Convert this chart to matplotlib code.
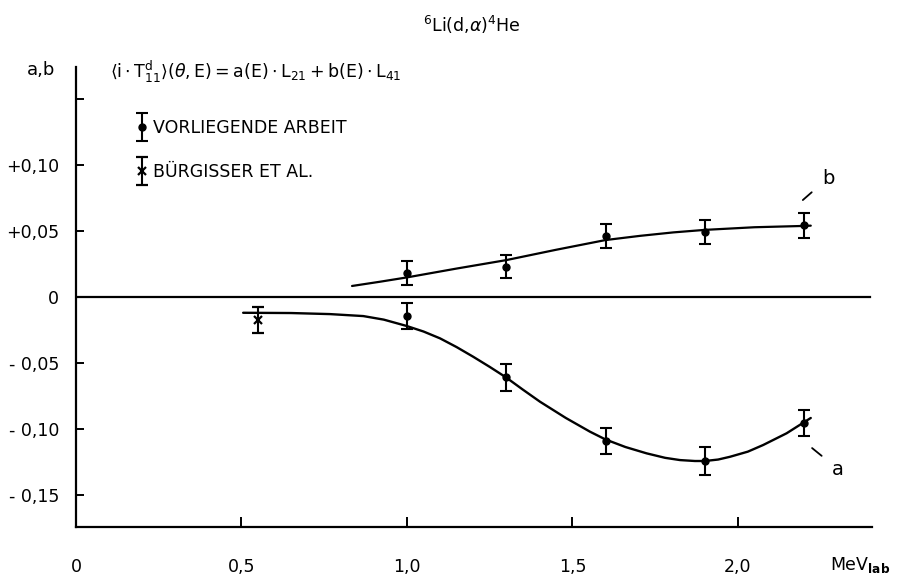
import matplotlib
matplotlib.use("Agg")
import matplotlib.pyplot as plt
from matplotlib.legend_handler import HandlerErrorbar

plt.rcParams['font.family'] = ['DejaVu Sans']
plt.rcParams['mathtext.fontset'] = 'dejavusans'

# ---- data ----
E_pts = [1.0, 1.3, 1.6, 1.9, 2.2]
a_pts = [-0.0148, -0.0612, -0.1095, -0.1246, -0.0956]
a_err = [0.0100, 0.0100, 0.0101, 0.0105, 0.0100]
b_pts = [0.0176, 0.0226, 0.0460, 0.0490, 0.0540]
b_err = [0.0092, 0.0087, 0.0089, 0.0093, 0.0093]

E_burg = [0.55]
a_burg = [-0.0178]
a_burg_err = [0.0102]

a_curve_E = [0.505, 0.65, 0.767, 0.868, 0.93, 0.999, 1.05, 1.10, 1.15, 1.20, 1.25, 1.299,
             1.35, 1.402, 1.48, 1.553, 1.60, 1.66, 1.724, 1.78, 1.825, 1.87, 1.90, 1.94,
             1.976, 2.03, 2.076, 2.147, 2.22]
a_curve_v = [-0.0123, -0.0125, -0.0133, -0.0148, -0.0175, -0.0223, -0.0265, -0.0317, -0.0383,
             -0.0456, -0.0533, -0.0612, -0.0705, -0.0797, -0.0920, -0.1024, -0.1083, -0.1140,
             -0.1188, -0.1222, -0.1239, -0.1246, -0.1246, -0.1235, -0.1214, -0.1175, -0.1125,
             -0.1036, -0.0920]

b_curve_E = [0.834, 0.918, 1.0, 1.15, 1.3, 1.45, 1.6, 1.705, 1.805, 1.9, 2.05, 2.2, 2.22]
b_curve_v = [0.0080, 0.0112, 0.0145, 0.0212, 0.0276, 0.0354, 0.0428, 0.0460, 0.0486, 0.0505,
             0.0525, 0.0535, 0.0537]

x_ticks = [0, 0.5, 1.0, 1.5, 2.0]
x_ticklabels = ['0', '0,5', '1,0', '1,5', '2,0']
y_ticks = [-0.15, -0.10, -0.05, 0.0, 0.05, 0.10, 0.15]
y_ticklabels = ['- 0,15', '- 0,10', '- 0,05', '0', '+0,05', '+0,10', '']

# ---- figure ----
fig = plt.figure(figsize=(9.02, 5.78), dpi=100)
ax = fig.add_axes([76/902, 1-527/578, (872-76)/902, (527-67)/578])
ax.set_xlim(0, 2.405)
ax.set_ylim(-0.1746, 0.1739)

for s in ['top', 'right']:
    ax.spines[s].set_visible(False)
for s in ['left', 'bottom']:
    ax.spines[s].set_linewidth(1.6)

ax.set_xticks(x_ticks)
ax.set_xticklabels(x_ticklabels)
ax.set_yticks(y_ticks)
ax.set_yticklabels(y_ticklabels)
ax.tick_params(axis='x', direction='in', length=7, width=1.4, pad=22, labelsize=12.5)
ax.tick_params(axis='y', direction='in', length=6, width=1.4, pad=12, labelsize=12.5)

# zero line
ax.axhline(0, xmin=0, xmax=(870-76)/(872-76), color='black', lw=1.6)

# curves
ax.plot(a_curve_E, a_curve_v, color='black', lw=1.7, solid_capstyle='round')
ax.plot(b_curve_E, b_curve_v, color='black', lw=1.6, solid_capstyle='round')

# data points
h1 = ax.errorbar(E_pts, a_pts, yerr=a_err, fmt='o', color='black', ms=5,
                 capsize=4, capthick=1.5, elinewidth=1.5)
ax.errorbar(E_pts, b_pts, yerr=b_err, fmt='o', color='black', ms=5,
            capsize=4, capthick=1.5, elinewidth=1.5)
h2 = ax.errorbar(E_burg, a_burg, yerr=a_burg_err, fmt='x', color='black', ms=6, mew=1.6,
                 capsize=4, capthick=1.5, elinewidth=1.5)

leg = ax.legend([h1, h2], ['VORLIEGENDE ARBEIT', 'BÜRGISSER ET AL.'],
                loc='upper left', bbox_to_anchor=(0.057, 0.921), frameon=False,
                fontsize=12.5, handlelength=0.6, handletextpad=0.35, labelspacing=1.5,
                handler_map={type(h1): HandlerErrorbar(xerr_size=0.4, yerr_size=0.8)})

# curve labels
ax.annotate('b', xy=(2.196, 0.0731), xytext=(2.272, 0.0898), fontsize=14,
            ha='center', va='center',
            arrowprops=dict(arrowstyle='-', color='black', lw=1.3, shrinkA=7, shrinkB=0))
ax.annotate('a', xy=(2.224, -0.1148), xytext=(2.302, -0.1307), fontsize=14,
            ha='center', va='center',
            arrowprops=dict(arrowstyle='-', color='black', lw=1.3, shrinkA=7, shrinkB=0))

# texts
fig.text(55/902, 1-70/578, 'a,b', fontsize=13, ha='right', va='center')
fig.text(110/902, 1-72/578,
         r'$\langle \mathrm{i}\cdot \mathrm{T}^{\mathrm{d}}_{11}\rangle(\theta,\mathrm{E})'
         r' = \mathrm{a(E)}\cdot \mathrm{L}_{21} + \mathrm{b(E)}\cdot \mathrm{L}_{41}$',
         fontsize=12.5, ha='left', va='center')
fig.text(472/902, 1-25/578, r'$^{6}$Li(d,$\alpha$)$^{4}$He', fontsize=12.5,
         ha='center', va='center')
fig.text(830/902, 1-565/578, r'MeV$_{\mathbf{lab}}$', fontsize=12.5, ha='left', va='center')

fig.savefig('out.png', dpi=100)
